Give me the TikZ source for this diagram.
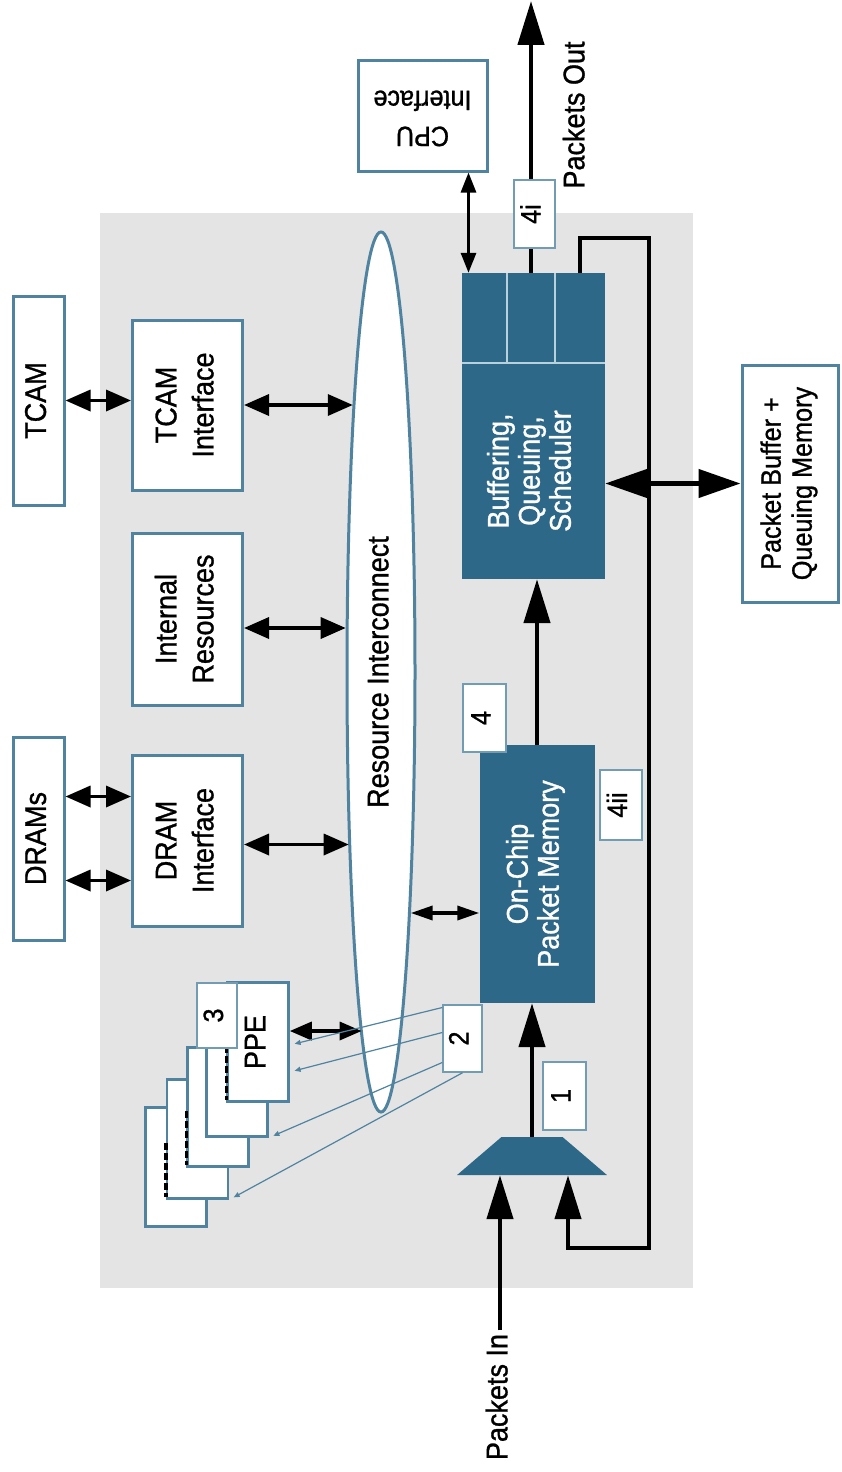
\documentclass[tikz,border=0pt]{standalone}
\usepackage{fontspec}
\setmainfont{Liberation Sans}[FakeStretch=0.9, FakeBold=1]
\usepackage{tikz}
\usetikzlibrary{arrows.meta, shapes.geometric}
\definecolor{qfpteal}{HTML}{2D6888}
\definecolor{qfpedge}{HTML}{4F83A0}
\definecolor{qfpgray}{HTML}{E4E4E4}
\definecolor{qfpsep}{HTML}{B9D0DD}
\newcommand{\uptext}[1]{\rotatebox{90}{\begin{tabular}{@{}c@{}}#1\end{tabular}}}

\begin{document}
\begin{tikzpicture}[x=1pt, y=-1pt, font=\fontsize{30}{37}\selectfont, >={Triangle[length=25pt,width=21pt]}]
    \tikzstyle{block} = [draw=qfpedge, line width=3, fill=white, inner sep=0, align=center]
    \tikzstyle{card} = [block, line width=2.5, minimum width=61, minimum height=119]
    \tikzstyle{dark} = [fill=qfpteal, text=white, inner sep=0, font=\fontsize{30}{31}\selectfont]
    \tikzstyle{tag} = [draw=qfpedge!80, line width=1.5, fill=white, inner sep=0, font=\fontsize{28}{30}\selectfont]
    \tikzstyle{dbl} = [<->, line width=3.5]
    \tikzstyle{big} = [->, line width=4.5, >={Triangle[length=44pt,width=26pt]}]
    \tikzstyle{feed} = [->, qfpedge, line width=1.2, >={Triangle[length=6pt,width=5pt]}, shorten >=5pt]
    \tikzstyle{thread} = [line width=3.5, dash pattern=on 7pt off 3pt]
    \useasboundingbox (0,0) rectangle (841,1472);
    \fill [qfpgray] (100,213) rectangle (693,1288);

    \node [block, minimum width=51, minimum height=209] (1) at (38.5,400.5) {\uptext{TCAM}};
    \node [block, minimum width=110, minimum height=170] (2) at (187.5,405) {\uptext{TCAM\\Interface}};
    \node [block, minimum width=110, minimum height=172] (3) at (187.5,619) {\uptext{Internal\\Resources}};
    \node [block, minimum width=110, minimum height=171] (4) at (187.5,840.5) {\uptext{DRAM\\Interface}};
    \node [block, minimum width=51, minimum height=203] (5) at (38.5,838.5) {\uptext{DRAMs}};
    \node [block, ellipse, minimum width=68, minimum height=880] (6) at (381,672) {\uptext{Resource Interconnect}};

    % PPE stack
    \node [card] (7e) at (176,1167) {};
    \node [card] (7d) at (197.5,1139) {};
    \node [card] (7c) at (218,1107) {};
    \node [card] (7b) at (237,1077) {};
    \node [card] (7a) at (258,1042) {\uptext{PPE}};
    \draw [thread] ([yshift=-4]7a.west) -- ([yshift=3]7a.south west);
    \draw [thread] ([yshift=-4]7c.west) -- ([yshift=3]7c.south west);
    \draw [thread] ([yshift=-4]7d.west) -- ([yshift=3]7d.south west);

    \node [dark, minimum width=115, minimum height=258] (9) at (537,874) {\uptext{On-Chip\\Packet Memory}};
    \node [dark, minimum width=143, minimum height=216] (8) at (533.5,471) {\uptext{Buffering,\\Queuing,\\Scheduler}};
    \node [dark, minimum width=45, minimum height=90] (8a) at (484.5,318) {};
    \node [dark, minimum width=48, minimum height=90] (8b) at (531,318) {};
    \node [dark, minimum width=50, minimum height=90] (8c) at (580,318) {};
    \draw [qfpsep, line width=2] (8.north west) -- (8.north east);
    \draw [qfpsep, line width=2] (8a.north east) -- (8a.south east);
    \draw [qfpsep, line width=2] (8b.north east) -- (8b.south east);
    \node [trapezium, trapezium angle=54, trapezium stretches=true, fill=qfpteal, inner sep=4pt,
        minimum width=150, minimum height=38] (12) at (532,1156) {};

    \node [block, minimum width=129, minimum height=110, font=\fontsize{28}{36}\selectfont] (10) at (422.5,116)
        {\rotatebox{180}{\begin{tabular}{@{}c@{}}CPU\\Interface\end{tabular}}};
    \node [block, minimum width=96, minimum height=237, font=\fontsize{28}{31}\selectfont] (11) at (790,483.5)
        {\uptext{Packet Buffer +\\Queuing Memory}};
    \node (13) at (500,1397) {\uptext{Packets In}};
    \node (15) at (577,115) {\uptext{Packets Out}};
    \coordinate (14) at (531,1);
    \coordinate (c1) at (649,238);
    \coordinate (c2) at (568,1248);

    \draw [dbl] (1.east) -- (1.east -| 2.west);
    \draw [dbl] ([yshift=42]5.east) -- ([yshift=42]5.east -| 4.west);
    \draw [dbl] ([yshift=-42]5.east) -- ([yshift=-42]5.east -| 4.west);
    \draw [dbl] (2.east) -- (2.east -| 6.96);
    \draw [dbl] ([yshift=-9]3.east) -- ([yshift=-9]3.east -| 6.128);
    \draw [dbl] ([yshift=-4]4.east) -- ([yshift=-4]4.east -| 6.260);
    \draw [dbl, >={Triangle[length=22pt,width=18pt]}] ([yshift=11]7a.east) -- ([yshift=11]7a.east -| 6.267);
    \draw [dbl, >={Triangle[length=22pt,width=14pt]}] ([yshift=-39]9.west) -- ([yshift=-39]9.west -| 6.277);
    \draw [dbl, line width=3, >={Triangle[length=20pt,width=15pt]}] ([xshift=46]10.south) -- ([xshift=46]10.south |- 8a.north);

    \draw [big] (13.north) -- (13.north |- 12.south);
    \draw [big] (12.north) -- (12.north |- 9.south);
    \draw [big] (9.north) -- (9.north |- 8.south);
    \draw [big] (8b.north) -- (14);
    \draw [big] (8c.north) |- (c1) |- (c2) -- (c2 |- 12.south);
    \draw [big, <->, >={Triangle[length=42pt,width=28pt]}] (11.west) -- (11.west -| 8.east);

    % step tags
    \node [tag, minimum width=43, minimum height=68] (t1) at (564.5,1096) {\uptext{1}};
    \node [tag, minimum width=39, minimum height=67] (t2) at (462.5,1038.5) {\uptext{2}};
    \node [tag, minimum width=40, minimum height=65] (t3) at (217,1015.5) {\uptext{3}};
    \node [tag, minimum width=43, minimum height=68] (t4) at (484.5,718) {\uptext{4}};
    \node [tag, minimum width=41, minimum height=68] (t4i) at (534.5,214) {\uptext{4i}};
    \node [tag, minimum width=42, minimum height=70] (t4ii) at (621,805) {\uptext{4ii}};

    \draw [feed] ([yshift=31]t2.west) -- ([yshift=-3]7a.east);
    \draw [feed] ([yshift=6]t2.west) -- ([yshift=-30]7a.east);
    \draw [feed] ([yshift=-24]t2.west) -- (7b.south east);
    \draw [feed] (t2.south) -- (7d.south east);
\end{tikzpicture}
\end{document}
